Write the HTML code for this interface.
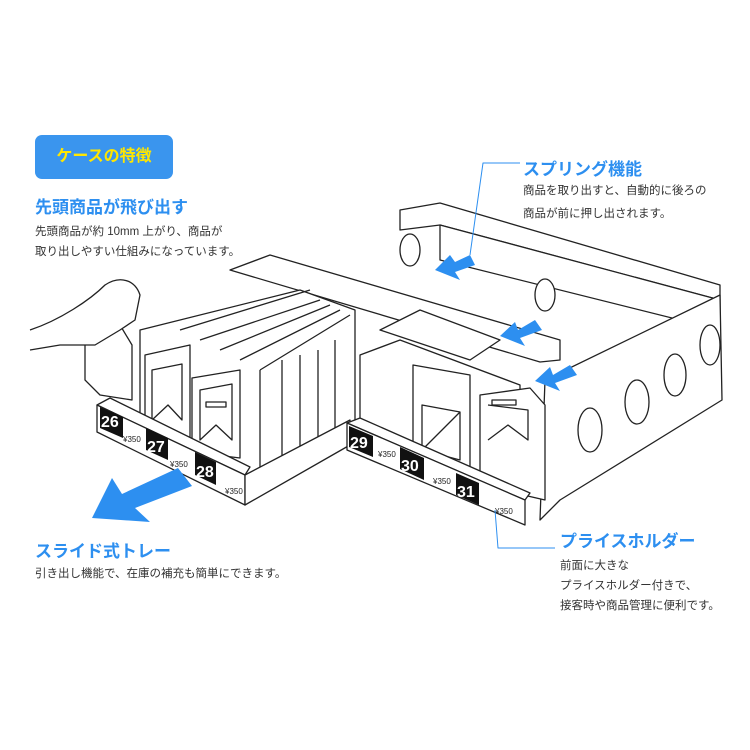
<!DOCTYPE html>
<html><head><meta charset="utf-8"><style>
body{margin:0;width:750px;height:750px;background:#fff;overflow:hidden;position:relative;font-family:"Liberation Sans","Noto Sans CJK JP",sans-serif}
.t{position:absolute;white-space:nowrap}
.h{color:#2d8ff0;font-weight:bold;font-size:17px}
.p{color:#333;font-size:11.5px}
</style></head><body>
<svg width="750" height="750" style="position:absolute;left:0;top:0" fill="#fff" stroke="#222" stroke-width="1.3" stroke-linejoin="round">
<polygon points="400,210 440,203 720,285 720,300 440,225 400,230"/>
<polygon points="440,225 720,300 720,330 440,260"/>
<polygon points="545,380 720,295 722,400 560,500 540,520"/>
<ellipse cx="590" cy="430" rx="12" ry="22"/>
<ellipse cx="637" cy="402" rx="12" ry="22"/>
<ellipse cx="675" cy="375" rx="11" ry="21"/>
<ellipse cx="710" cy="345" rx="10" ry="20"/>
<polygon points="230,270 270,255 560,340 560,360 540,362"/>
<ellipse cx="410" cy="250" rx="10" ry="16"/>
<ellipse cx="545" cy="295" rx="10" ry="16"/>
<polygon points="140,330 300,290 355,310 355,420 245,480 140,420"/>
<g fill="none">
<path d="M180,330 L310,290 M200,340 L320,300 M220,350 L330,305 M240,360 L340,310 M260,370 L350,315"/>
<path d="M260,370 L260,480 M282,360 L282,475 M300,355 L300,465 M318,350 L318,455 M335,340 L335,440"/>
</g>
<polygon points="145,355 190,345 190,440 145,440"/>
<path d="M152,370 L182,364 L182,420 L168,405 L152,420Z" fill="none"/>
<polygon points="192,378 240,370 240,458 192,452"/>
<path d="M200,390 L232,384 L232,440 L216,425 L200,440Z" fill="none"/>
<rect x="206" y="402" width="20" height="5" fill="none"/>
<polygon points="85,340 120,325 132,345 132,400 100,395 85,380"/>
<path d="M30,330 C60,320 90,300 105,285 C120,275 135,280 140,295 L135,320 L120,330 L95,345 L60,345 L30,350" />
<polygon points="97,405 110,398 250,467 245,475"/>
<polygon points="97,405 245,475 245,505 97,432"/>
<polygon points="245,475 350,420 350,445 245,505"/>
<polygon points="360,355 400,340 520,385 520,480 455,480 360,440"/>
<polygon points="413,365 470,375 470,470 413,455"/>
<path d="M422,405 L460,412 L460,460 L422,450Z M422,450 L460,412" fill="none"/>
<polygon points="480,395 530,388 545,405 545,500 480,485"/>
<path d="M488,405 L528,410 L528,440 L508,425 L488,440" fill="none"/>
<rect x="492" y="400" width="24" height="5" fill="none"/>
<polygon points="380,330 420,310 500,340 470,360"/>
<polygon points="347,423 360,418 530,493 525,500"/>
<polygon points="347,423 525,500 525,525 347,450"/>
<g fill="#111" stroke="none">
<polygon points="100,407 123,417 123,438 100,428"/>
<polygon points="146,428 168,438 168,460 146,450"/>
<polygon points="195,452 216,462 216,485 195,475"/>
<polygon points="349,426 373,436 373,457 349,447"/>
<polygon points="400,447 424,458 424,480 400,469"/>
<polygon points="456,473 479,483 479,505 456,495"/>
</g>
<g fill="#fff" stroke="none" font-family="Liberation Sans" font-weight="bold" font-size="16">
<text x="101" y="427">26</text><text x="147" y="452">27</text><text x="196" y="477">28</text>
<text x="350" y="448">29</text><text x="401" y="471">30</text><text x="457" y="497">31</text>
</g>
<g fill="#222" stroke="none" font-size="8" font-family="Liberation Sans">
<text x="123" y="442">¥350</text><text x="170" y="467">¥350</text><text x="225" y="494">¥350</text>
<text x="378" y="457">¥350</text><text x="433" y="484">¥350</text><text x="495" y="514">¥350</text>
</g>
<g fill="#2d8ff0" stroke="none">
<polygon points="178,468 192,486 135,508 150,522 92,518 112,478 122,494"/>
<polygon points="470,255 475,265 455,272 460,280 435,270 450,255 455,262"/>
<polygon points="535,320 542,330 520,338 525,346 500,336 515,322 518,330"/>
<polygon points="570,365 577,375 555,383 560,391 535,381 550,367 553,375"/>
</g>
<g stroke="#2d8ff0" stroke-width="1" fill="none">
<path d="M520,163 L483,163 L470,255"/>
<path d="M495,510 L498,548 L555,548"/>
</g>
</svg>
<div class="t" style="left:35px;top:135px;width:138px;height:44px;background:#3a95ee;border-radius:7px;color:#ffe600;font-weight:bold;font-size:16px;line-height:44px;text-align:center">ケースの特徴</div>
<div class="t h" style="left:35px;top:193px">先頭商品が飛び出す</div>
<div class="t p" style="left:35px;top:223px">先頭商品が約 10mm 上がり、商品が</div>
<div class="t p" style="left:35px;top:243px">取り出しやすい仕組みになっています。</div>
<div class="t h" style="left:523px;top:155px">スプリング機能</div>
<div class="t p" style="left:523px;top:182px">商品を取り出すと、自動的に後ろの</div>
<div class="t p" style="left:523px;top:205px">商品が前に押し出されます。</div>
<div class="t h" style="left:35px;top:537px">スライド式トレー</div>
<div class="t p" style="left:35px;top:565px">引き出し機能で、在庫の補充も簡単にできます。</div>
<div class="t h" style="left:560px;top:527px">プライスホルダー</div>
<div class="t p" style="left:560px;top:557px">前面に大きな</div>
<div class="t p" style="left:560px;top:577px">プライスホルダー付きで、</div>
<div class="t p" style="left:560px;top:597px">接客時や商品管理に便利です。</div>
</body></html>
